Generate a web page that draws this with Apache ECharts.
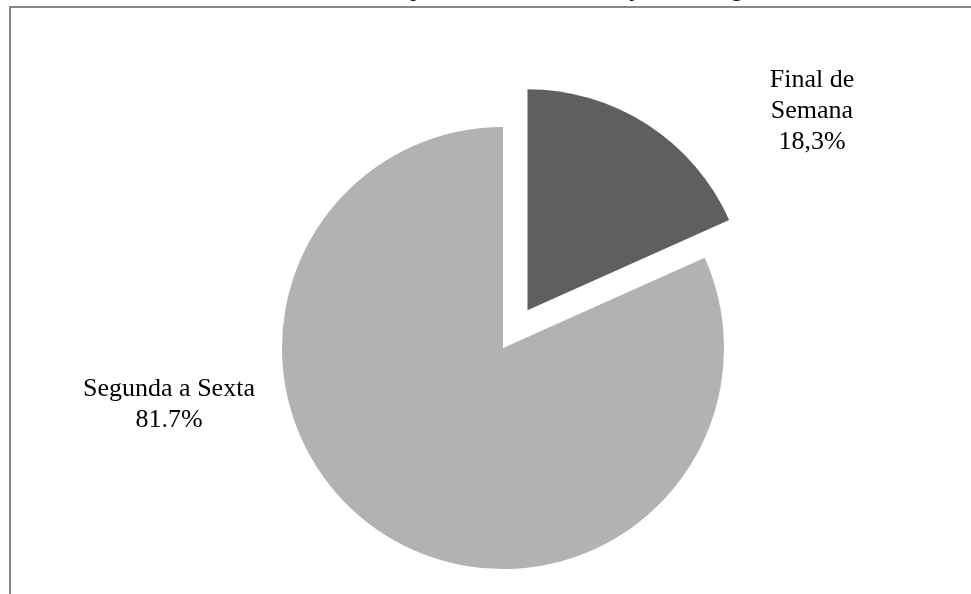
<!DOCTYPE html>
<html>
<head>
<meta charset="utf-8">
<script src="https://cdn.jsdelivr.net/npm/echarts@6/dist/echarts.min.js"></script>
<style>
  html, body { margin: 0; padding: 0; background: #fff; }
  #chart { width: 971px; height: 594px; }
</style>
</head>
<body>
<div id="chart"></div>
<script>
// dados
var categorias = ['Final de Semana', 'Segunda a Sexta']
var rotulos = ['Final de\nSemana\n18,3%', 'Segunda a Sexta\n81.7%']
var valores = [18.3, 81.7]
var cores = ['#5f5f5f', '#b2b2b2']

var chart = echarts.init(document.getElementById('chart'))

var centro = [503, 348]
var raio = 221
var destaque = 45   // afastamento da fatia destacada (Final de Semana)

// posição dos rótulos (centro do texto)
var posRotulos = [[812, 111], [169, 405]]

// ângulo médio da fatia destacada, a partir do topo, sentido horário
var total = valores[0] + valores[1]
var angMeio = (valores[0] / total) * Math.PI
var centroDestaque = [centro[0] + Math.sin(angMeio) * destaque, centro[1] - Math.cos(angMeio) * destaque]

function serie(idx, c) {
    return {
        type: 'pie',
        center: c,
        radius: [0, raio],
        startAngle: 90,
        clockwise: true,
        silent: true,
        label: {
            show: true,
            position: 'inside',
            formatter: function (p) { return p.dataIndex === idx ? rotulos[idx] : '' },
            fontFamily: 'Liberation Serif',
            fontSize: 26,
            lineHeight: 31,
            color: '#000',
            align: 'center'
        },
        labelLine: { show: false },
        labelLayout: function (p) {
            var pos = posRotulos[p.dataIndex]
            return { x: pos[0], y: pos[1], align: 'center', verticalAlign: 'middle' }
        },
        data: categorias.map(function (nome, i) {
            return {
                name: nome,
                value: valores[i],
                itemStyle: { color: i === idx ? cores[i] : 'rgba(0,0,0,0)' }
            }
        })
    }
}

var options = {
    animation: false,
    title: {
        text: 'Número de acidentes de trânsito no período da semana, de janeiro a agosto de 2013',
        left: 60,
        top: -27,
        textStyle: {
            fontFamily: 'Liberation Serif',
            fontWeight: 'normal',
            fontSize: 24,
            color: '#000'
        }
    },
    graphic: [{
        type: 'rect',
        shape: { x: 10, y: 7, width: 1200, height: 1000 },
        style: { fill: 'none', stroke: '#878787', lineWidth: 2 }
    }],
    series: [
        serie(1, centro),
        serie(0, centroDestaque)
    ]
}

chart.setOption(options)
</script>
</body>
</html>
